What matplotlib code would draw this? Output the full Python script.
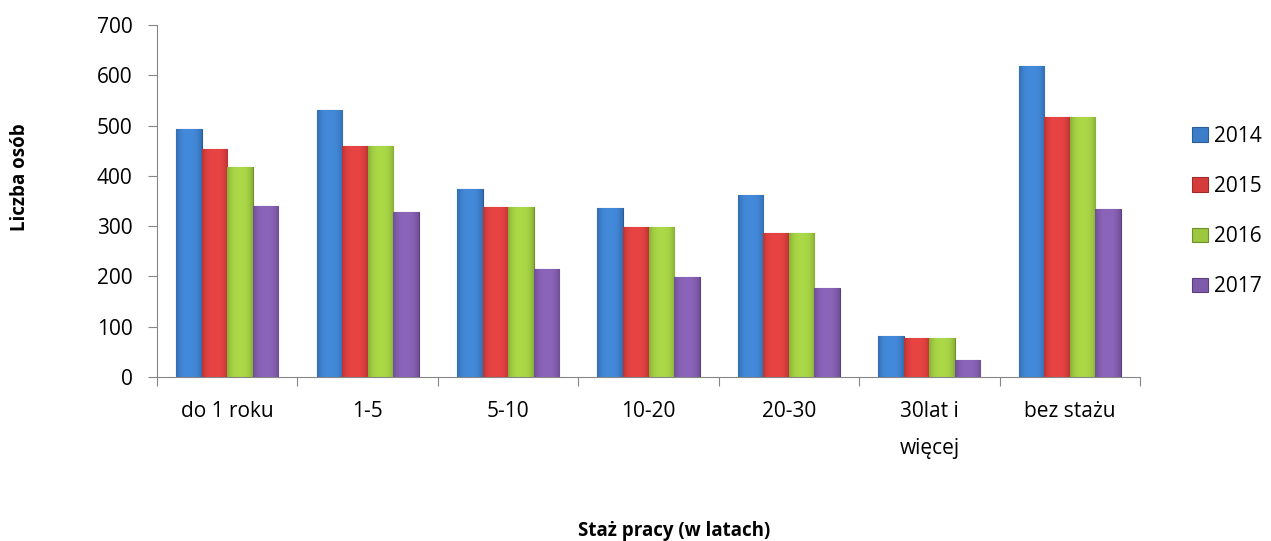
import matplotlib.pyplot as plt
import matplotlib.colors as mcolors
import numpy as np

plt.rcParams['font.family'] = ['Open Sans', 'DejaVu Sans']

# Data
categories = ["do 1 roku", "1-5", "5-10", "10-20", "20-30", "30lat i\nwięcej", "bez stażu"]
years = ["2014", "2015", "2016", "2017"]
v2014 = [494, 530, 374, 336, 362, 81, 619]
v2015 = [453, 459, 338, 298, 287, 78, 517]
v2016 = [417, 459, 338, 298, 287, 78, 517]
v2017 = [341, 328, 215, 199, 177, 34, 334]
series = [v2014, v2015, v2016, v2017]

colors = ['#3B7DC9', '#D63B3B', '#9CC73E', '#7E5AAA']
edges = ['#2A5C98', '#A02A2A', '#6E9028', '#5A3E80']

fig = plt.figure(figsize=(12.71, 5.41), dpi=100)
ax = fig.add_axes([157 / 1271, 1 - 377 / 541, (1140 - 157) / 1271, (377 - 25) / 541])

x = np.arange(len(categories))
w = 0.182
for i, (vals, c, ec, yr) in enumerate(zip(series, colors, edges, years)):
    bars = ax.bar(x + (i - 1.5) * w, vals, width=w, color=c, edgecolor=ec,
                  linewidth=0.8, label=yr, zorder=2)
    # gentle horizontal shading to mimic the glossy look
    base = np.array(mcolors.to_rgb(c))
    dark = base * 0.88
    light = np.clip(base * 1.06 + 0.02, 0, 1)
    t = np.abs(np.linspace(-1, 1, 32))
    grad = light[None, :] * (1 - t[:, None] ** 3) + dark[None, :] * (t[:, None] ** 3)
    for b in bars:
        im = ax.imshow(grad[None, :, :], extent=(b.get_x(), b.get_x() + b.get_width(),
                                                  0, b.get_height()),
                       aspect='auto', zorder=2.5, interpolation='bicubic')
        im.set_clip_path(b)

ax.set_xlim(-0.5, len(categories) - 0.5)
ax.set_ylim(0, 700)
ax.set_yticks(range(0, 701, 100))
ax.tick_params(axis='y', labelsize=15, length=6.5, color='#868686', pad=11)

# category boundary ticks
ax.set_xticks(np.arange(-0.5, len(categories), 1.0))
ax.set_xticklabels([])
ax.set_xticks(x, minor=True)
ax.set_xticklabels(categories, minor=True, fontsize=15, linespacing=2.0)
ax.tick_params(axis='x', which='major', length=6.5, color='#868686')
ax.tick_params(axis='x', which='minor', length=0, pad=17)

for s in ['top', 'right']:
    ax.spines[s].set_visible(False)
for s in ['left', 'bottom']:
    ax.spines[s].set_color('#868686')
    ax.spines[s].set_zorder(3)

fig.text(20 / 1271, 1 - 177 / 541, "Liczba osób", rotation=90, fontsize=13.5,
         fontweight='bold', ha='center', va='center')
fig.text(674 / 1271, 1 - 531 / 541, "Staż pracy (w latach)", fontsize=13.5,
         fontweight='bold', ha='center', va='center')

leg = ax.legend(loc='center left', bbox_to_anchor=(1.034, 0.47), frameon=False,
                fontsize=15, handlelength=0.75, handleheight=0.7,
                handletextpad=0.3, labelspacing=1.4)

fig.savefig("out.png", dpi=100)
